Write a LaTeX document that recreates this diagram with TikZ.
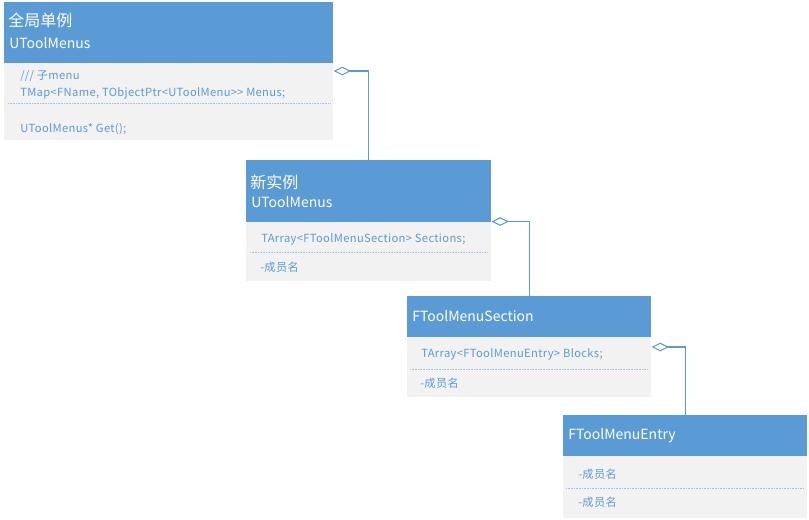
\documentclass[tikz,border=0pt]{standalone}
\usepackage{fontspec}
\setmainfont{Noto Sans CJK SC}
\usetikzlibrary{arrows.meta,calc}
\definecolor{hdr}{HTML}{5B9BD5}
\definecolor{bod}{HTML}{F2F2F2}
\definecolor{sep}{HTML}{9DC3E6}
\tikzset{
  hdrbox/.style={fill=hdr,draw=none,anchor=north west,inner sep=0pt},
  bodbox/.style={fill=bod,draw=none,anchor=north west,inner sep=0pt},
  ttl/.style={anchor=west,text=white,font=\fontsize{10.5}{12}\selectfont,inner sep=0pt},
  ttlcn/.style={anchor=west,text=white,font=\fontsize{12}{14}\selectfont,inner sep=0pt},
  mem/.style={anchor=west,text=hdr,font=\fontsize{8.4}{10}\selectfont\addfontfeatures{LetterSpace=3},inner sep=0pt},
  sepline/.style={draw=sep,dash pattern=on 0.6pt off 0.6pt,line width=0.6pt},
  conn/.style={draw=hdr,line width=1pt,{Diamond[open,length=13pt,width=6.5pt,line width=0.8pt]}-},
}
\begin{document}
\begin{tikzpicture}[x=0.75pt,y=-0.75pt]
\useasboundingbox (0,0) rectangle (809,519);
% Box 1
\node[hdrbox,minimum width=329*0.75pt,minimum height=61*0.75pt] (h1) at (4,2) {};
\node[bodbox,minimum width=329*0.75pt,minimum height=77*0.75pt] (b1) at (4,63) {};
\node[ttlcn] (t1a) at (8,20) {全局单例};
\node[ttl] (t1b) at (9,43) {UToolMenus};
\node[mem] (m1a) at (20,76) {/// 子menu};
\node[mem] (m1b) at (20,93) {TMap<FName, TObjectPtr<UToolMenu>\kern0pt> Menus;};
\node[mem] (m1c) at (20,129) {UToolMenus* Get();};
\draw[sepline] (8,103) -- (330,103);
% Box 2
\node[hdrbox,minimum width=245*0.75pt,minimum height=62*0.75pt] (h2) at (246,160) {};
\node[bodbox,minimum width=245*0.75pt,minimum height=59*0.75pt] (b2) at (246,222) {};
\node[ttlcn] (t2a) at (250,182) {新实例};
\node[ttl] (t2b) at (251,202) {UToolMenus};
\node[mem] (m2a) at (261,239) {TArray<FToolMenuSection> Sections;};
\node[mem] (m2b) at (260,267) {-成员名};
\draw[sepline] (250,252) -- (488,252);
% Box 3
\node[hdrbox,minimum width=244*0.75pt,minimum height=41*0.75pt] (h3) at (407,296) {};
\node[bodbox,minimum width=244*0.75pt,minimum height=60*0.75pt] (b3) at (407,337) {};
\node[ttl] (t3a) at (412,316) {FToolMenuSection};
\node[mem] (m3a) at (421,354) {TArray<FToolMenuEntry> Blocks;};
\node[mem] (m3b) at (420,383) {-成员名};
\draw[sepline] (410,369) -- (648,369);
% Box 4
\node[hdrbox,minimum width=244*0.75pt,minimum height=41*0.75pt] (h4) at (563,415) {};
\node[bodbox,minimum width=244*0.75pt,minimum height=62*0.75pt] (b4) at (563,456) {};
\node[ttl] (t4a) at (568,436) {FToolMenuEntry};
\node[mem] (m4a) at (578,474) {-成员名};
\node[mem] (m4b) at (578,502) {-成员名};
\draw[sepline] (566,488) -- (804,488);
% Connectors
\coordinate (c1) at ($(b1.north east)+(0,8)$);
\coordinate (c2) at ($(h2.south east)+(0,-1)$);
\coordinate (c3) at ($(b3.north east)+(0,10)$);
\draw[conn] (c1) -| (h2.north);
\draw[conn] (c2) -| (h3.north);
\draw[conn] (c3) -| (h4.north);
\end{tikzpicture}
\end{document}
